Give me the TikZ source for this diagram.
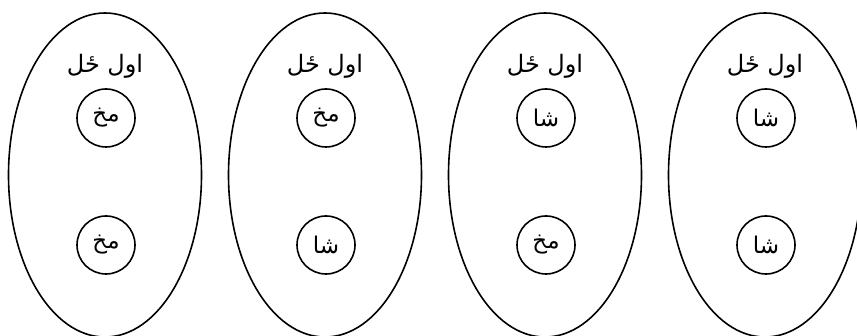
\documentclass[tikz,border=0pt]{standalone}
\usepackage{fontspec}
\usetikzlibrary{shapes.geometric}
\TeXXeTstate=1
\newfontfamily\arabicfont[Script=Arabic]{DejaVu Sans}
\tikzset{
  group/.style={draw, ellipse, line width=1.6pt, minimum width=193pt, minimum height=324pt, inner sep=0pt},
  coin/.style={draw, circle, line width=1.6pt, minimum size=58pt, inner sep=0pt, font=\arabicfont\fontsize{23pt}{27pt}\selectfont},
  lbl/.style={inner sep=0pt, font=\arabicfont\fontsize{24pt}{28pt}\selectfont}
}
\begin{document}
\begin{tikzpicture}[x=1pt,y=-1pt]
\useasboundingbox (0,0) rectangle (857,336);
\foreach \i/\cx/\top/\bot in {1/105/مخ/مخ, 2/325/مخ/شا, 3/545/شا/مخ, 4/765/شا/شا}{
  \node[group] (g\i) at (\cx,175) {};
  \node[lbl] (l\i) at (\cx,66) {\beginR اول ځل\endR};
  \node[coin] (t\i) at (\cx+1,118) {\beginR \top\endR};
  \node[coin] (b\i) at (\cx+1,245) {\beginR \bot\endR};
}
\end{tikzpicture}
\end{document}
